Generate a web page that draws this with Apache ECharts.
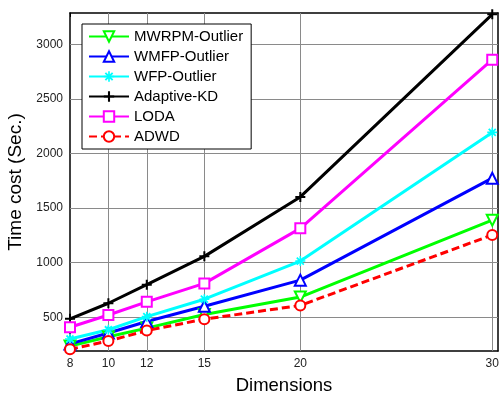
<!DOCTYPE html>
<html><head><meta charset="utf-8">
<script src="https://cdn.jsdelivr.net/npm/echarts@6/dist/echarts.min.js"></script>
<style>html,body{margin:0;padding:0;background:#fff}#c{width:502px;height:394px}</style>
</head><body><div id="c"></div>
<script>
const dims = [8, 10, 12, 15, 20, 30];
const xTicks = [8, 10, 12, 15, 20, 30];
const yTicks = [500, 1000, 1500, 2000, 2500, 3000];
const mwrpm = [235, 320, 400, 525, 685, 1390];
const wmfp = [255, 355, 460, 600, 840, 1775];
const wfp = [300, 385, 505, 665, 1015, 2195];
const adaptiveKD = [485, 628, 798, 1058, 1603, 3278];
const loda = [408, 520, 641, 810, 1315, 2862];
const adwd = [205, 282, 377, 482, 608, 1254];
const names = ['MWRPM-Outlier', 'WMFP-Outlier', 'WFP-Outlier', 'Adaptive-KD', 'LODA', 'ADWD'];

const FF = 'Liberation Sans, Arial, sans-serif';
const pair = arr => dims.map((d, i) => [d, arr[i]]);
const plusPath = 'path://M4,0L6,0L6,4L10,4L10,6L6,6L6,10L4,10L4,6L0,6L0,4L4,4Z';
const starPath = 'path://M4.2,0L5.8,0L5.8,4.2L10,4.2L10,5.8L5.8,5.8L5.8,10L4.2,10L4.2,5.8L0,5.8L0,4.2L4.2,4.2Z' +
  'M2.14,0.86L9.14,7.86L7.86,9.14L0.86,2.14Z M9.14,2.14L2.14,9.14L0.86,7.86L7.86,0.86Z';

function mk(name, arr, color, symbol, size, opts) {
  return Object.assign({
    name, type: 'line', data: pair(arr), z: 3,
    symbol, symbolSize: size,
    lineStyle: { color, width: 3 },
    itemStyle: { color, borderWidth: 2 },
    animation: false
  }, opts || {});
}

const grid = [];
xTicks.slice(1).forEach(v => grid.push({ xAxis: v }));
yTicks.forEach(v => grid.push({ yAxis: v }));

const chart = echarts.init(document.getElementById('c'), null, { renderer: 'canvas' });
chart.setOption({
  animation: false,
  backgroundColor: '#fff',
  textStyle: { fontFamily: FF },
  grid: { left: 70, right: 4, top: 13, bottom: 43, containLabel: false, outerBoundsMode: 'none' },
  legend: {
    data: names, z: 10,
    orient: 'vertical', left: 82, top: 24,
    itemWidth: 40, itemHeight: 13, itemGap: 5,
    padding: [5, 8, 5, 6],
    borderColor: '#000', borderWidth: 1, backgroundColor: '#fff',
    textStyle: { fontSize: 15, color: '#000', fontFamily: FF }
  },
  xAxis: [{
    type: 'value', min: 8, max: 30.3,
    name: 'Dimensions', nameLocation: 'middle', nameGap: 25,
    nameTextStyle: { fontSize: 18.5, color: '#000', fontFamily: FF },
    axisLine: { lineStyle: { color: '#000', width: 1.5 } },
    axisTick: { inside: true, length: 4, customValues: xTicks, lineStyle: { color: '#000' } },
    axisLabel: { customValues: xTicks, fontSize: 12, color: '#222', margin: 7, fontFamily: FF, formatter: v => String(v) },
    splitLine: { show: false }
  }, {
    type: 'value', min: 8, max: 30.3, position: 'top',
    axisLine: { onZero: false, lineStyle: { color: '#000', width: 1.5 } },
    axisTick: { inside: true, length: 4, customValues: xTicks, lineStyle: { color: '#000' } },
    axisLabel: { show: false }, splitLine: { show: false }
  }],
  yAxis: [{
    type: 'value', min: 190, max: 3290,
    name: 'Time cost (Sec.)', nameLocation: 'middle', nameGap: 32,
    nameTextStyle: { fontSize: 19, color: '#000', fontFamily: FF },
    axisLine: { show: true, onZero: false, lineStyle: { color: '#000', width: 1.5 } },
    axisTick: { show: true, inside: true, length: 4, customValues: yTicks, lineStyle: { color: '#000' } },
    axisLabel: { customValues: yTicks, fontSize: 12, color: '#222', margin: 7, fontFamily: FF, formatter: v => String(v) },
    splitLine: { show: false }
  }, {
    type: 'value', min: 190, max: 3290, position: 'right',
    axisLine: { show: true, onZero: false, lineStyle: { color: '#000', width: 1.5 } },
    axisTick: { show: true, inside: true, length: 4, customValues: yTicks, lineStyle: { color: '#000' } },
    axisLabel: { show: false }, splitLine: { show: false }
  }],
  series: [
    { name: 'grid', type: 'line', data: [], z: 1, silent: true, animation: false,
      markLine: { z: 1, silent: true, symbol: 'none', animation: false, label: { show: false },
        lineStyle: { color: '#8a8a8a', width: 1, type: 'solid' }, data: grid } },
    mk(names[0], mwrpm, '#00ff00', 'emptyTriangle', 11, { symbolRotate: 180 }),
    mk(names[1], wmfp, '#0000ff', 'emptyTriangle', 11),
    mk(names[2], wfp, '#00ffff', starPath, 10),
    mk(names[3], adaptiveKD, '#000000', plusPath, 10),
    mk(names[4], loda, '#ff00ff', 'emptyRect', 10),
    mk(names[5], adwd, '#ff0000', 'emptyCircle', 10, { lineStyle: { color: '#ff0000', width: 3, type: [8, 4] } })
  ]
});
</script></body></html>
